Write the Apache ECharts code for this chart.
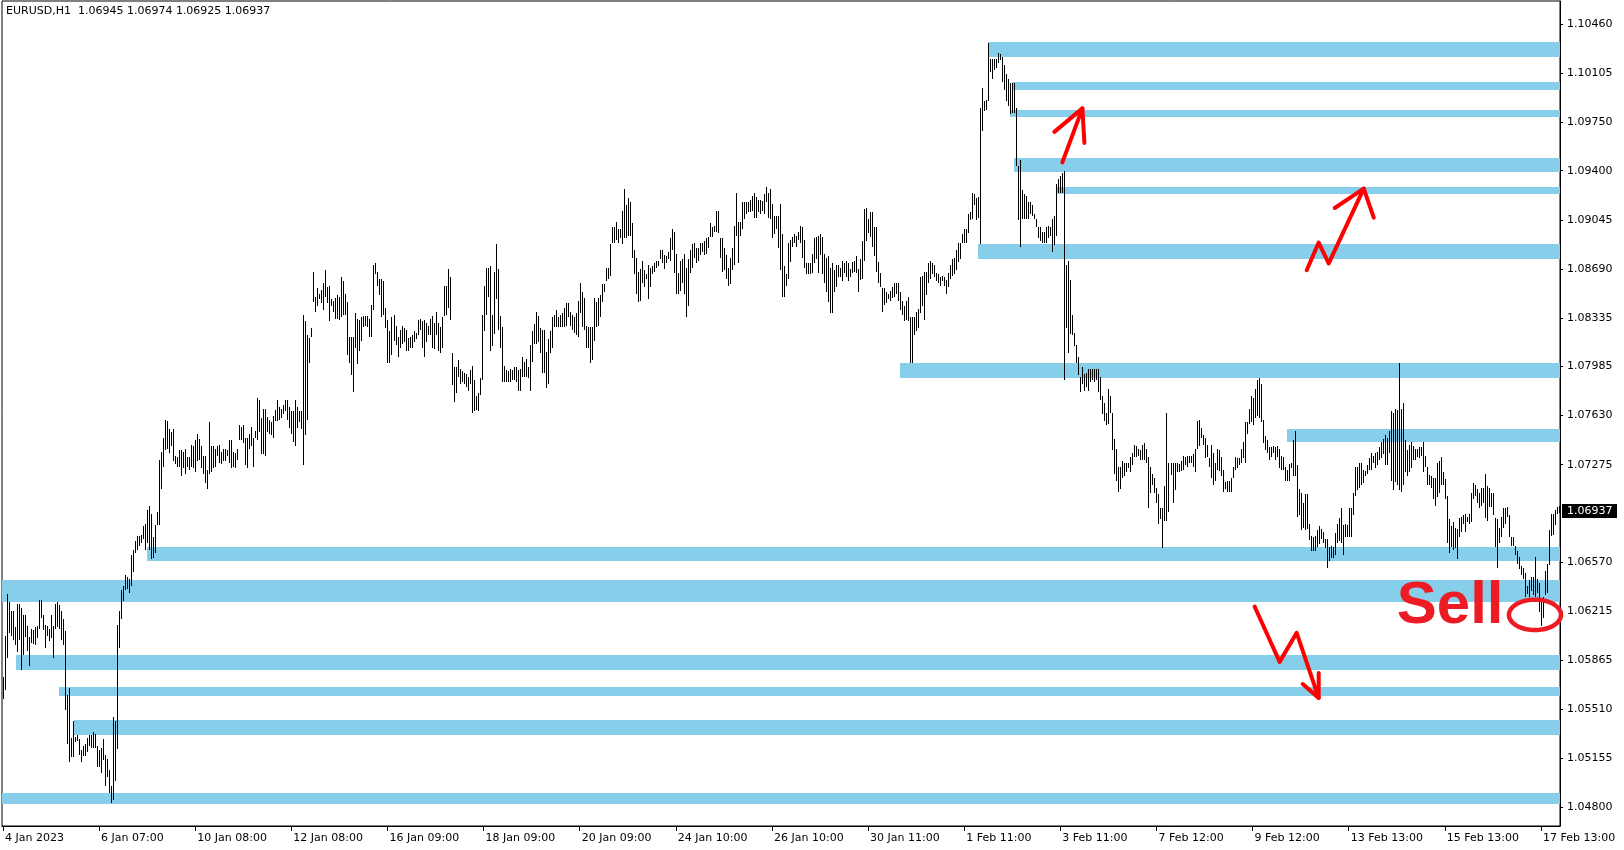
<!DOCTYPE html>
<html><head><meta charset="utf-8">
<script src="https://cdn.jsdelivr.net/npm/echarts@6/dist/echarts.min.js"></script>
<style>html,body{margin:0;padding:0;background:#fff}#c{width:1624px;height:850px}</style>
</head><body><div id="c"></div>
<script>
const symbol = 'EURUSD,H1';
const lastQuote = {open: 1.06945, high: 1.06974, low: 1.06925, close: 1.06937};
const xLabels = ['4 Jan 2023','6 Jan 07:00','10 Jan 08:00','12 Jan 08:00','16 Jan 09:00','18 Jan 09:00','20 Jan 09:00','24 Jan 10:00','26 Jan 10:00','30 Jan 11:00','1 Feb 11:00','3 Feb 11:00','7 Feb 12:00','9 Feb 12:00','13 Feb 13:00','15 Feb 13:00','17 Feb 13:00'];
const barsPerLabel = 48;
const yTicks = [1.10460,1.10105,1.09750,1.09400,1.09045,1.08690,1.08335,1.07985,1.07630,1.07275,1.06570,1.06215,1.05865,1.05510,1.05155,1.04800];

// hourly bar highs / lows
const highs = [
1.0574,1.0604,1.0634,1.0628,1.0622,1.0622,1.0610,1.0627,1.0627,1.0624,
1.0619,1.0619,1.0611,1.0603,1.0609,1.0608,1.0610,1.0611,1.0630,1.0630,
1.0619,1.0612,1.0611,1.0609,1.0619,1.0611,1.0627,1.0628,1.0626,1.0622,
1.0616,1.0607,1.0561,1.0566,1.0530,1.0542,1.0531,1.0532,1.0529,1.0521,
1.0524,1.0526,1.0530,1.0532,1.0532,1.0534,1.0533,1.0524,1.0521,1.0523,
1.0529,1.0518,1.0515,1.0507,1.0495,1.0545,1.0542,1.0612,1.0622,1.0637,
1.0640,1.0648,1.0646,1.0645,1.0662,1.0666,1.0672,1.0676,1.0676,1.0677,
1.0683,1.0685,1.0695,1.0698,1.0692,1.0675,1.0684,1.0693,1.0731,1.0737,
1.0747,1.0760,1.0759,1.0753,1.0751,1.0753,1.0734,1.0733,1.0738,1.0738,
1.0737,1.0739,1.0733,1.0733,1.0742,1.0741,1.0745,1.0750,1.0746,1.0741,
1.0734,1.0734,1.0724,1.0758,1.0741,1.0741,1.0739,1.0741,1.0742,1.0737,
1.0739,1.0739,1.0738,1.0745,1.0745,1.0737,1.0736,1.0739,1.0756,1.0755,
1.0756,1.0747,1.0747,1.0750,1.0755,1.0747,1.0752,1.0776,1.0774,1.0761,
1.0768,1.0768,1.0762,1.0760,1.0758,1.0763,1.0767,1.0774,1.0769,1.0768,
1.0771,1.0774,1.0774,1.0769,1.0766,1.0766,1.0774,1.0769,1.0766,1.0766,
1.0836,1.0831,1.0821,1.0819,1.0826,1.0867,1.0849,1.0855,1.0851,1.0854,
1.0859,1.0868,1.0856,1.0857,1.0847,1.0846,1.0848,1.0850,1.0849,1.0863,
1.0860,1.0851,1.0845,1.0820,1.0820,1.0820,1.0837,1.0833,1.0832,1.0834,
1.0835,1.0835,1.0835,1.0833,1.0843,1.0872,1.0873,1.0867,1.0862,1.0862,
1.0860,1.0841,1.0832,1.0824,1.0834,1.0836,1.0828,1.0820,1.0825,
1.0828,1.0826,1.0825,1.0819,1.0820,1.0821,1.0824,1.0823,1.0832,1.0833,
1.0831,1.0832,1.0830,1.0828,1.0833,1.0835,1.0830,1.0838,1.0830,1.0827,
1.0834,1.0857,1.0857,1.0869,1.0863,1.0808,1.0798,1.0798,1.0803,1.0797,
1.0795,1.0794,1.0793,1.0791,1.0796,1.0799,1.0789,1.0777,1.0779,1.0790,
1.0836,1.0857,1.0870,1.0870,1.0871,1.0836,1.0867,1.0887,1.0869,1.0835,
1.0827,1.0799,1.0796,1.0795,1.0797,1.0796,1.0798,1.0798,1.0796,1.0797,
1.0805,1.0802,1.0804,1.0798,1.0814,1.0824,1.0829,1.0838,1.0835,1.0826,
1.0825,1.0825,1.0809,1.0818,1.0824,1.0834,1.0836,1.0839,1.0834,1.0836,
1.0837,1.0841,1.0844,1.0844,1.0838,1.0836,1.0834,1.0837,1.0846,1.0859,
1.0852,1.0848,1.0828,1.0827,1.0827,1.0827,1.0848,1.0845,1.0848,1.0850,
1.0858,1.0858,1.0870,1.0870,1.0887,1.0899,1.0899,1.0903,1.0898,1.0898,
1.0911,1.0927,1.0915,1.0920,1.0917,1.0902,1.0883,1.0877,1.0867,1.0869,
1.0875,1.0868,1.0865,1.0872,1.0870,1.0871,1.0873,1.0875,1.0875,1.0883,
1.0883,1.0879,1.0878,1.0881,1.0891,1.0898,1.0896,1.0880,1.0866,1.0875,
1.0876,1.0880,1.0870,1.0876,1.0883,1.0887,1.0888,1.0884,1.0884,1.0888,
1.0888,1.0889,1.0891,1.0892,1.0902,1.0899,1.0900,1.0911,1.0911,1.0891,
1.0891,1.0884,1.0879,1.0870,1.0877,1.0884,1.0900,1.0924,1.0903,1.0903,
1.0917,1.0917,1.0917,1.0917,1.0919,1.0922,1.0924,1.0921,1.0919,1.0919,
1.0918,1.0923,1.0928,1.0924,1.0927,1.0916,1.0907,1.0907,1.0907,1.0916,
1.0894,1.0871,1.0865,1.0888,1.0890,1.0892,1.0894,1.0893,1.0896,1.0900,
1.0899,1.0890,1.0873,1.0873,1.0873,1.0880,1.0891,1.0892,1.0893,1.0894,
1.0892,1.0880,1.0877,1.0878,1.0870,1.0873,1.0868,1.0872,1.0872,1.0870,
1.0875,1.0873,1.0875,1.0873,1.0869,1.0874,1.0875,1.0878,1.0869,1.0876,
1.0889,1.0912,1.0913,1.0905,1.0910,1.0910,1.0899,1.0899,1.0874,1.0866,
1.0855,1.0855,1.0852,1.0851,1.0853,1.0856,1.0859,1.0859,1.0859,1.0852,
1.0846,1.0842,1.0846,1.0849,1.0834,1.0834,1.0834,1.0838,1.0840,1.0863,
1.0864,1.0867,1.0867,1.0873,1.0875,1.0873,1.0872,1.0866,1.0865,1.0863,
1.0864,1.0863,1.0861,1.0866,1.0872,1.0876,1.0877,1.0883,1.0888,1.0888,
1.0894,1.0898,1.0898,1.0909,1.0910,1.0924,1.0923,1.0920,1.0921,1.0985,
1.1000,1.0990,1.0991,1.1032,1.1021,1.1021,1.1021,1.1021,1.1025,1.1024,
1.1022,1.1016,1.1010,1.1006,1.1003,1.1003,1.1003,1.0985,1.0943,1.0948,
1.0926,1.0923,1.0922,1.0917,1.0917,1.0915,1.0909,1.0905,1.0899,1.0899,
1.0896,1.0896,1.0899,1.0900,1.0899,1.0905,1.0907,1.0930,1.0934,1.0936,
1.0938,1.0940,1.0872,1.0875,1.0861,1.0836,1.0823,1.0814,1.0805,1.0791,
1.0798,1.0793,1.0794,1.0797,1.0797,1.0797,1.0797,1.0797,1.0797,1.0791,
1.0777,1.0772,1.0765,1.0782,1.0777,1.0765,1.0746,1.0739,1.0726,1.0726,
1.0730,1.0729,1.0729,1.0729,1.0733,1.0736,1.0742,1.0741,1.0739,1.0738,
1.0742,1.0743,1.0739,1.0733,1.0726,1.0721,1.0718,1.0711,1.0706,1.0696,
1.0696,1.0712,1.0765,1.0729,1.0729,
1.0729,1.0729,1.0729,1.0728,1.0730,1.0734,1.0733,1.0734,1.0734,1.0734,
1.0735,1.0739,1.0759,1.0760,1.0754,1.0749,1.0747,1.0742,1.0732,1.0742,
1.0736,1.0729,1.0739,1.0738,1.0733,1.0724,1.0715,1.0716,1.0716,1.0718,
1.0726,1.0733,1.0732,1.0732,1.0739,1.0744,1.0758,1.0758,1.0768,1.0777,
1.0776,1.0782,1.0789,1.0790,1.0786,1.0760,1.0748,1.0745,1.0740,1.0740,
1.0741,1.0740,1.0741,1.0739,1.0734,1.0733,1.0726,1.0724,1.0728,1.0729,
1.0745,1.0752,1.0727,1.0710,1.0707,1.0700,1.0706,1.0706,1.0685,1.0676,
1.0675,1.0676,1.0680,1.0683,1.0681,1.0679,1.0674,1.0674,1.0668,1.0669,
1.0668,1.0678,1.0685,1.0689,1.0696,1.0684,1.0685,1.0684,1.0696,1.0696,
1.0707,1.0726,1.0726,1.0729,1.0729,1.0724,1.0723,1.0727,1.0732,1.0736,
1.0734,1.0736,1.0737,1.0740,1.0744,1.0746,1.0749,1.0747,1.0752,1.0766,
1.0765,1.0768,1.0767,1.0801,1.0768,1.0772,1.0745,1.0738,1.0742,1.0744,
1.0741,1.0739,1.0739,1.0740,1.0740,1.0744,1.0734,1.0726,1.0720,1.0719,
1.0718,1.0718,1.0729,1.0730,1.0733,1.0722,1.0717,1.0705,1.0688,1.0683,
1.0686,1.0682,1.0681,1.0689,1.0690,1.0691,1.0692,1.0690,1.0692,1.0707,
1.0714,1.0713,1.0710,1.0707,1.0711,1.0711,1.0721,1.0712,1.0711,1.0707,
1.0707,1.0689,1.0688,1.0682,1.0690,1.0696,1.0696,1.0697,1.0691,1.0675,
1.0675,1.0669,1.0665,1.0661,1.0654,1.0653,1.0649,1.0640,1.0644,1.0646,
1.0646,1.0661,1.0645,1.0642,1.0628,1.0632,1.0651,1.0656,1.0680,1.0692,
1.0692,1.0695,1.0697,1.06974
];
const lows = [
1.0558,1.0565,1.0588,1.0606,1.0604,1.0601,1.0597,1.0592,1.0601,1.0579,
1.0590,1.0603,1.0593,1.0582,1.0599,1.0598,1.0597,1.0602,1.0609,1.0617,
1.0608,1.0595,1.0604,1.0600,1.0602,1.0588,1.0609,1.0610,1.0609,1.0601,
1.0597,1.0550,1.0526,1.0513,1.0516,1.0516,1.0527,1.0528,1.0518,1.0513,
1.0517,1.0517,1.0520,1.0524,1.0523,1.0523,1.0523,1.0509,1.0509,1.0505,
1.0514,1.0495,1.0502,1.0490,1.0483,1.0485,1.0499,1.0522,1.0595,1.0616,
1.0629,1.0637,1.0638,1.0635,1.0640,1.0650,1.0664,1.0666,1.0669,1.0671,
1.0674,1.0666,1.0671,1.0666,1.0659,1.0660,1.0664,1.0684,1.0684,1.0710,
1.0726,1.0738,1.0739,1.0736,1.0741,1.0730,1.0728,1.0726,1.0726,1.0719,
1.0725,1.0721,1.0726,1.0724,1.0726,1.0725,1.0722,1.0730,1.0731,1.0725,
1.0721,1.0714,1.0710,1.0721,1.0722,1.0725,1.0726,1.0734,1.0729,1.0728,
1.0730,1.0730,1.0734,1.0729,1.0725,1.0726,1.0725,1.0731,1.0745,1.0745,
1.0743,1.0727,1.0725,1.0739,1.0741,1.0726,1.0747,1.0745,1.0751,1.0735,
1.0735,1.0734,1.0751,1.0750,1.0749,1.0747,1.0759,1.0759,1.0760,1.0761,
1.0764,1.0766,1.0760,1.0754,1.0750,1.0744,1.0741,1.0754,1.0758,1.0753,
1.0727,1.0749,1.0760,1.0801,1.0820,1.0845,1.0838,1.0842,1.0847,1.0844,
1.0839,1.0849,1.0844,1.0831,1.0842,1.0838,1.0833,1.0833,1.0832,1.0834,
1.0836,1.0836,1.0807,1.0801,1.0792,1.0780,1.0812,1.0800,1.0810,1.0817,
1.0827,1.0828,1.0827,1.0820,1.0820,1.0839,1.0865,1.0857,1.0850,1.0834,
1.0836,1.0826,1.0801,1.0801,1.0807,1.0817,1.0814,1.0805,1.0812,
1.0815,1.0816,1.0810,1.0810,1.0812,1.0812,1.0816,1.0818,1.0821,1.0825,
1.0812,1.0805,1.0816,1.0821,1.0821,1.0812,1.0811,1.0821,1.0810,1.0808,
1.0812,1.0835,1.0836,1.0841,1.0832,1.0785,1.0773,1.0779,1.0791,1.0786,
1.0787,1.0786,1.0784,1.0781,1.0786,1.0765,1.0766,1.0767,1.0766,1.0778,
1.0789,1.0824,1.0836,1.0849,1.0810,1.0813,1.0822,1.0847,1.0825,1.0812,
1.0787,1.0787,1.0787,1.0787,1.0787,1.0789,1.0789,1.0787,1.0781,1.0781,
1.0791,1.0791,1.0791,1.0790,1.0781,1.0802,1.0815,1.0815,1.0816,1.0808,
1.0794,1.0794,1.0783,1.0786,1.0808,1.0812,1.0827,1.0827,1.0827,1.0827,
1.0827,1.0827,1.0828,1.0834,1.0828,1.0825,1.0823,1.0821,1.0820,1.0837,
1.0827,1.0825,1.0812,1.0812,1.0801,1.0803,1.0817,1.0827,1.0828,1.0834,
1.0845,1.0852,1.0860,1.0862,1.0864,1.0888,1.0888,1.0890,1.0888,1.0891,
1.0887,1.0891,1.0891,1.0893,1.0893,1.0877,1.0865,1.0851,1.0845,1.0846,
1.0859,1.0856,1.0862,1.0847,1.0856,1.0865,1.0867,1.0870,1.0871,1.0876,
1.0873,1.0869,1.0873,1.0876,1.0875,1.0883,1.0866,1.0851,1.0851,1.0853,
1.0859,1.0851,1.0834,1.0842,1.0866,1.0870,1.0877,1.0873,1.0875,1.0879,
1.0881,1.0879,1.0880,1.0884,1.0892,1.0892,1.0896,1.0896,1.0895,1.0877,
1.0867,1.0868,1.0862,1.0857,1.0858,1.0868,1.0872,1.0893,1.0873,1.0893,
1.0898,1.0905,1.0909,1.0910,1.0910,1.0911,1.0906,1.0906,1.0910,1.0909,
1.0911,1.0909,1.0917,1.0906,1.0905,1.0891,1.0894,1.0898,1.0884,1.0868,
1.0849,1.0849,1.0857,1.0862,1.0874,1.0885,1.0888,1.0885,1.0890,1.0888,
1.0877,1.0870,1.0865,1.0865,1.0865,1.0866,1.0873,1.0876,1.0866,1.0879,
1.0865,1.0859,1.0852,1.0845,1.0837,1.0837,1.0852,1.0856,1.0863,1.0863,
1.0860,1.0866,1.0863,1.0860,1.0863,1.0866,1.0867,1.0866,1.0852,1.0861,
1.0862,1.0875,1.0889,1.0895,1.0892,1.0885,1.0878,1.0867,1.0859,1.0856,
1.0838,1.0843,1.0844,1.0847,1.0846,1.0848,1.0849,1.0851,1.0846,1.0839,
1.0836,1.0831,1.0832,1.0831,1.0801,1.0801,1.0821,1.0824,1.0826,1.0837,
1.0842,1.0832,1.0850,1.0859,1.0862,1.0865,1.0863,1.0860,1.0859,1.0857,
1.0860,1.0857,1.0851,1.0856,1.0862,1.0864,1.0865,1.0868,1.0874,1.0876,
1.0888,1.0888,1.0888,1.0895,1.0904,1.0905,1.0915,1.0904,1.0906,1.0887,
1.0969,1.0983,1.0984,1.0990,1.1011,1.1006,1.1013,1.1014,1.1018,1.1020,
1.1004,1.0998,1.0990,1.0987,1.0981,1.0982,1.0982,1.0943,1.0904,1.0885,
1.0905,1.0905,1.0905,1.0905,1.0909,1.0907,1.0905,1.0899,1.0891,1.0889,
1.0888,1.0888,1.0888,1.0891,1.0893,1.0881,1.0886,1.0893,1.0924,1.0924,
1.0924,1.0789,1.0826,1.0808,1.0822,1.0821,1.0813,1.0801,1.0792,1.0780,
1.0786,1.0781,1.0784,1.0781,1.0787,1.0789,1.0787,1.0789,1.0780,1.0774,
1.0764,1.0759,1.0756,1.0757,1.0765,1.0738,1.0721,1.0716,1.0708,1.0710,
1.0718,1.0719,1.0722,1.0725,1.0722,1.0727,1.0733,1.0733,1.0734,1.0731,
1.0731,1.0731,1.0729,1.0696,1.0707,1.0713,1.0707,1.0700,1.0685,1.0688,
1.0667,1.0687,1.0687,1.0693,1.0720,
1.0700,1.0709,1.0722,1.0722,1.0723,1.0724,1.0727,1.0726,1.0729,1.0729,
1.0726,1.0722,1.0739,1.0741,1.0747,1.0742,1.0732,1.0733,1.0726,1.0718,
1.0713,1.0716,1.0724,1.0723,1.0719,1.0708,1.0710,1.0708,1.0708,1.0708,
1.0718,1.0724,1.0725,1.0727,1.0729,1.0732,1.0729,1.0750,1.0757,1.0758,
1.0756,1.0761,1.0763,1.0761,1.0758,1.0743,1.0738,1.0736,1.0731,1.0733,
1.0736,1.0731,1.0733,1.0725,1.0724,1.0724,1.0716,1.0716,1.0716,1.0725,
1.0719,1.0719,1.0690,1.0691,1.0680,1.0682,1.0680,1.0681,1.0673,1.0665,
1.0665,1.0665,1.0668,1.0670,1.0674,1.0671,1.0667,1.0653,1.0658,1.0660,
1.0660,1.0662,1.0671,1.0672,1.0671,1.0662,1.0675,1.0675,1.0675,1.0675,
1.0691,1.0705,1.0709,1.0711,1.0713,1.0714,1.0719,1.0721,1.0724,1.0724,
1.0729,1.0725,1.0727,1.0731,1.0732,1.0735,1.0727,1.0727,1.0736,1.0716,
1.0709,1.0715,1.0713,1.0709,1.0708,1.0713,1.0722,1.0719,1.0722,1.0725,
1.0731,1.0731,1.0733,1.0732,1.0734,1.0722,1.0726,1.0713,1.0713,1.0711,
1.0703,1.0698,1.0704,1.0707,1.0713,1.0713,1.0703,1.0671,1.0664,1.0668,
1.0666,1.0667,1.0659,1.0675,1.0679,1.0685,1.0679,1.0686,1.0685,1.0686,
1.0703,1.0705,1.0700,1.0696,1.0698,1.0700,1.0689,1.0687,1.0697,1.0697,
1.0691,1.0668,1.0653,1.0671,1.0675,1.0682,1.0685,1.0690,1.0675,1.0669,
1.0669,1.0662,1.0656,1.0652,1.0648,1.0645,1.0632,1.0634,1.0632,1.0636,
1.0633,1.0632,1.0635,1.0621,1.0611,1.0617,1.0633,1.0635,1.0655,1.0676,
1.0677,1.0684,1.0692,1.06925
];

// support / resistance zones: start bar, top price, bottom price
const zoneStart = [492, 504, 503, 505, 526, 487, 448, 641, 72, -0.5, 6.5, 28, 35.5, -0.5];
const zoneHigh  = [1.1033,1.1004,1.0984,1.0949,1.0928,1.0887,1.0801,1.0753,1.0668,1.0644,1.0590,1.0567,1.0543,1.0490];
const zoneLow   = [1.1022,1.0998,1.0979,1.0939,1.0923,1.0876,1.0790,1.0744,1.0658,1.0628,1.0579,1.0560,1.0532,1.0482];

// hand-drawn annotations in [bar, price]
const arrowUpShaft = [[529,1.0946],[539,1.0985]];
const arrowUpHead = [[525,1.0968],[539,1.0985],[540,1.0960]];
const zigUpLine = [[651,1.0868],[657,1.0888],[662,1.0873],[679.5,1.0927]];
const zigUpHead = [[665,1.0913],[679.5,1.0927],[684.5,1.0906]];
const zigDownLine = [[625,1.0625],[637.5,1.0585],[646,1.0606],[657,1.0559]];
const zigDownHead = [[649,1.0569],[657,1.0559],[657,1.0577]];
const sellText = 'Sell';
const sellAnchor = [696, 1.0625];
const ellipseBox = [[752, 1.0630], [778, 1.0608]];

const FONT = '"DejaVu Sans", sans-serif';
const barCount = highs.length;
const xMin = -0.5, xMax = barCount - 0.5;
const xTickBars = xLabels.map((_, k) => k * barsPerLabel);

const chart = echarts.init(document.getElementById('c'), null, {renderer: 'canvas'});
chart.setOption({
  animation: false,
  backgroundColor: '#fff',
  title: {
    text: symbol + '  ' + [lastQuote.open, lastQuote.high, lastQuote.low, lastQuote.close].map(v => v.toFixed(5)).join(' '),
    left: 6, top: 6, padding: 0,
    textStyle: {fontSize: 11, fontWeight: 'normal', color: '#000', fontFamily: FONT}
  },
  grid: {left: 2, right: 64, top: 1, bottom: 24, show: true, borderColor: '#000', borderWidth: 1, backgroundColor: '#fff'},
  xAxis: {
    type: 'value', min: xMin, max: xMax, z: 5,
    axisLine: {show: true, onZero: false, lineStyle: {color: '#000', width: 1}},
    axisTick: {show: true, customValues: xTickBars, length: 5, lineStyle: {color: '#000'}},
    axisLabel: {show: true, customValues: xTickBars, align: 'left', margin: 7, padding: [0, 0, 0, 2],
      color: '#000', fontSize: 11, fontFamily: FONT,
      formatter: v => { const k = xTickBars.indexOf(Math.round(v)); return k >= 0 ? xLabels[k] : ''; }},
    splitLine: {show: false}
  },
  yAxis: {
    type: 'value', position: 'right', min: 1.04664, max: 1.10626, z: 5,
    axisLine: {show: true, onZero: false, lineStyle: {color: '#000', width: 1}},
    axisTick: {show: true, customValues: yTicks, length: 3, lineStyle: {color: '#000'}},
    axisLabel: {show: true, customValues: yTicks, margin: 7, color: '#000', fontSize: 11, fontFamily: FONT,
      formatter: v => v.toFixed(5)},
    splitLine: {show: false}
  },
  series: [
    {
      type: 'custom', name: 'zones', z: 1, silent: true, clip: true,
      data: zoneStart.map((s, i) => [s, zoneHigh[i], zoneLow[i]]),
      encode: {x: 0, y: [1, 2]},
      renderItem: (params, api) => {
        const a = api.coord([api.value(0), api.value(1)]);
        const b = api.coord([xMax, api.value(2)]);
        const x0 = Math.round(a[0]), y0 = Math.round(a[1]);
        return {type: 'rect', shape: {x: x0, y: y0, width: Math.round(b[0]) - x0, height: Math.round(b[1]) - y0},
          style: {fill: '#87ceeb'}};
      }
    },
    {
      type: 'custom', name: 'bars', z: 2, silent: true, clip: true,
      data: highs.map((h, i) => [i, h, lows[i]]),
      encode: {x: 0, y: [1, 2]},
      renderItem: (params, api) => {
        const t = api.coord([api.value(0), api.value(1)]);
        const b = api.coord([api.value(0), api.value(2)]);
        const y0 = Math.round(t[1]);
        const y1 = Math.max(Math.round(b[1]), y0 + 1);
        return {type: 'rect', shape: {x: Math.round(t[0]), y: y0, width: 1, height: y1 - y0}, style: {fill: '#000'}};
      }
    },
    {
      type: 'custom', name: 'annotations', z: 10, silent: true, clip: false,
      data: [[xMin, 1.07]],
      encode: {x: 0, y: 1},
      renderItem: (params, api) => {
        const ls = {stroke: '#ff0000', lineWidth: 4, lineJoin: 'round', lineCap: 'round', fill: 'none'};
        const lines = [arrowUpShaft, arrowUpHead, zigUpLine, zigUpHead, zigDownLine, zigDownHead];
        const children = lines.map(l => ({type: 'polyline', shape: {points: l.map(p => api.coord(p))}, style: ls}));
        const c1 = api.coord(ellipseBox[0]), c2 = api.coord(ellipseBox[1]);
        const cx = (c1[0] + c2[0]) / 2, cy = (c1[1] + c2[1]) / 2;
        const rx = Math.abs(c2[0] - c1[0]) / 2, ry = Math.abs(c2[1] - c1[1]) / 2;
        const ep = [];
        for (let k = 0; k < 90; k++) { const t = k / 90 * Math.PI * 2; ep.push([cx + rx * Math.cos(t), cy + ry * Math.sin(t)]); }
        children.push({type: 'polygon', shape: {points: ep}, style: {fill: 'none', stroke: '#ed1c24', lineWidth: 4.5}});
        const s = api.coord(sellAnchor);
        children.push({type: 'text', style: {text: sellText, x: s[0], y: s[1], align: 'left', verticalAlign: 'middle',
          font: 'bold 60px "Liberation Sans", Arial, sans-serif', fill: '#ed1c24'}});
        return {type: 'group', children: children};
      }
    },
    {
      type: 'custom', name: 'price', z: 10, silent: true, clip: false,
      data: [[xMax, lastQuote.close]],
      encode: {x: 0, y: 1},
      renderItem: (params, api) => {
        const p = api.coord([xMax, api.value(1)]);
        const y = Math.round(p[1]);
        return {type: 'group', children: [
          {type: 'rect', shape: {x: Math.round(p[0]) + 2, y: y - 7, width: 55, height: 14}, style: {fill: '#000'}},
          {type: 'text', style: {text: lastQuote.close.toFixed(5), x: Math.round(p[0]) + 7, y: y, align: 'left',
            verticalAlign: 'middle', fill: '#fff', font: '11px "DejaVu Sans", sans-serif'}}
        ]};
      }
    }
  ]
});
</script>
</body></html>
